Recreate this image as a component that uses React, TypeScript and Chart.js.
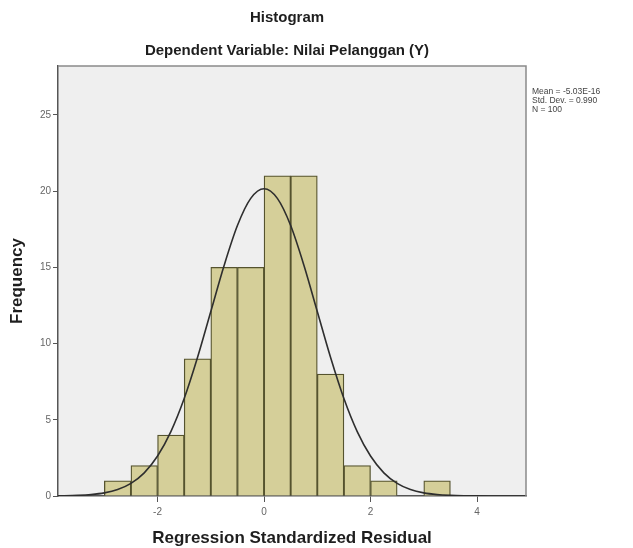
import React, { useEffect, useRef } from "react";
import { Chart, registerables } from "chart.js";
Chart.register(...registerables);

const binStart = [-3, -2.5, -2, -1.5, -1, -0.5, 0, 0.5, 1, 1.5, 2, 2.5, 3];
const frequency = [1, 2, 4, 9, 15, 15, 21, 21, 8, 2, 1, 0, 1];
const binWidth = 0.5;
const curveX = [-4, -3.75, -3.5, -3.25, -3, -2.75, -2.5, -2.25, -2, -1.75, -1.5, -1.25, -1, -0.75, -0.5, -0.25, 0, 0.25, 0.5, 0.75, 1, 1.25, 1.5, 1.75, 2, 2.25, 2.5, 2.75, 3, 3.25, 3.5, 3.75, 4, 4.25, 4.5, 4.75, 5];
const curveY = [0.006, 0.015, 0.039, 0.092, 0.204, 0.425, 0.83, 1.52, 2.62, 4.22, 6.39, 9.08, 12.1, 15.12, 17.74, 19.52, 20.15, 19.52, 17.74, 15.12, 12.1, 9.08, 6.39, 4.22, 2.62, 1.52, 0.83, 0.425, 0.204, 0.092, 0.039, 0.015, 0.006, 0.002, 0.001, 0, 0];
const xTickValues = [-2, 0, 2, 4];
const yTickValues = [0, 5, 10, 15, 20, 25];
const titleText = "Histogram";
const subtitleText = "Dependent Variable: Nilai Pelanggan (Y)";
const xAxisTitle = "Regression Standardized Residual";
const yAxisTitle = "Frequency";
const statsLines = ["Mean = -5.03E-16", "Std. Dev. = 0.990", "N = 100"];

const FONT = "'Liberation Sans', Arial, sans-serif";

const decorPlugin = {
  id: "decor",
  beforeDraw(chart: any) {
    const { ctx, chartArea: a } = chart;
    ctx.save();
    ctx.fillStyle = "#efefef";
    ctx.fillRect(a.left, a.top, a.right - a.left, a.bottom - a.top);
    ctx.restore();
  },
  afterDraw(chart: any) {
    const { ctx, chartArea: a } = chart;
    ctx.save();
    ctx.strokeStyle = "#8a8a8a";
    ctx.lineWidth = 1.5;
    ctx.beginPath();
    ctx.moveTo(a.left, a.top);
    ctx.lineTo(a.right, a.top);
    ctx.lineTo(a.right, a.bottom);
    ctx.stroke();

    ctx.fillStyle = "#1e1e1e";
    ctx.textAlign = "center";
    ctx.textBaseline = "middle";
    ctx.font = `bold 15px ${FONT}`;
    ctx.fillText(titleText, 287, 18);
    ctx.fillText(subtitleText, 287, 51);

    ctx.font = `bold 17px ${FONT}`;
    ctx.fillText(xAxisTitle, (a.left + a.right) / 2, 538);
    ctx.save();
    ctx.translate(17, (a.top + a.bottom) / 2);
    ctx.rotate(-Math.PI / 2);
    ctx.fillText(yAxisTitle, 0, 0);
    ctx.restore();

    ctx.textAlign = "left";
    ctx.fillStyle = "#444";
    ctx.font = `8.5px ${FONT}`;
    statsLines.forEach((s, i) => ctx.fillText(s, 532, 92 + i * 9));
    ctx.restore();
  },
};

export default function App() {
  const ref = useRef<HTMLCanvasElement>(null);
  useEffect(() => {
    const canvas = ref.current!;
    const chart = new Chart(canvas, {
      type: "bar",
      data: {
        datasets: [
          {
            type: "line",
            data: curveX.map((x, i) => ({ x, y: curveY[i] })),
            borderColor: "#2e2e2e",
            borderWidth: 1.6,
            pointRadius: 0,
            cubicInterpolationMode: "monotone",
            order: 0,
          } as any,
          {
            type: "bar",
            data: binStart.map((s, i) => ({ x: s + binWidth / 2, y: frequency[i] })),
            backgroundColor: "#d5cf99",
            borderColor: "#55532e",
            borderWidth: 1.3,
            barPercentage: 1,
            categoryPercentage: 1,
            order: 1,
          } as any,
        ],
      },
      options: {
        responsive: false,
        animation: false,
        devicePixelRatio: 1,
        layout: { padding: { left: 0, right: 107, top: 66, bottom: 0 } },
        plugins: { legend: { display: false }, tooltip: { enabled: false }, title: { display: false } },
        scales: {
          x: {
            type: "linear",
            offset: false,
            min: -3.87,
            max: 4.92,
            afterBuildTicks: (s: any) => { s.ticks = xTickValues.map((v) => ({ value: v })); },
            afterFit: (s: any) => { s.height = 52; },
            grid: { offset: false, drawOnChartArea: false, drawTicks: true, tickLength: 6, color: "#555", lineWidth: 1 },
            border: { display: true, color: "#555", width: 1.5 },
            ticks: { color: "#666", font: { family: FONT, size: 10 }, padding: 4, maxRotation: 0 },
          },
          y: {
            type: "linear",
            min: 0,
            max: 28.2,
            afterBuildTicks: (s: any) => { s.ticks = yTickValues.map((v) => ({ value: v })); },
            afterFit: (s: any) => { s.width = 58; },
            grid: { drawOnChartArea: false, drawTicks: true, tickLength: 5, color: "#555", lineWidth: 1 },
            border: { display: true, color: "#555", width: 1.5 },
            ticks: { color: "#666", font: { family: FONT, size: 10 }, padding: 2 },
          },
        },
      } as any,
      plugins: [decorPlugin],
    });
    return () => chart.destroy();
  }, []);
  return (
    <div style={{ position: "absolute", left: 0, top: 0, width: 633, height: 548, background: "#fff" }}>
      <canvas ref={ref} width={633} height={548} style={{ width: 633, height: 548, display: "block" }} />
    </div>
  );
}
